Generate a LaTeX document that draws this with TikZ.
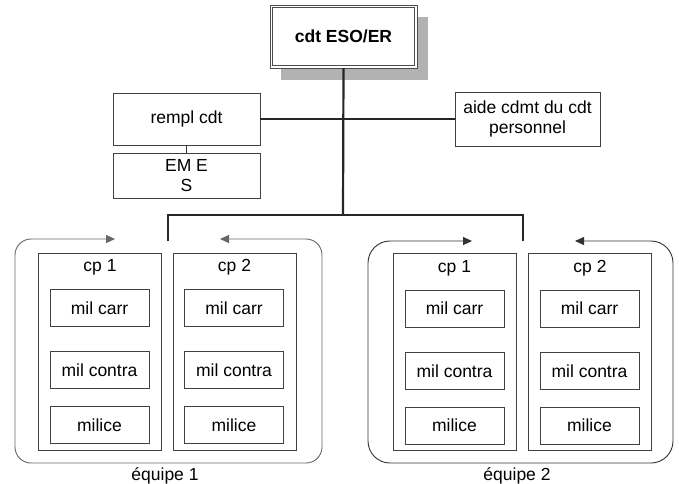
\documentclass[tikz,border=0pt]{standalone}
\usepackage{fontspec}
\setmainfont{Liberation Sans}
\usetikzlibrary{arrows.meta,positioning,shadows}

\begin{document}
\begin{tikzpicture}[x=1pt,y=-1pt,font=\fontsize{17.5}{20}\selectfont]
	\tikzstyle{box}=[draw=black!75, line width=0.9pt, rectangle, inner sep=0pt, outer sep=0pt, align=center]
	\tikzstyle{unit}=[box, minimum width=99pt, minimum height=37pt]
	\tikzstyle{cp}=[box, minimum width=123pt, minimum height=197pt]
	\tikzstyle{link}=[draw=black!85, line width=2.2pt]
	\tikzstyle{frame}=[draw=black!60, line width=0.9pt, {Triangle[length=9pt,width=8pt]}-{Triangle[length=9pt,width=8pt]}]

	\useasboundingbox (0,0) rectangle (679,483);

	% top of the tree
	\node[box, draw=black!70, fill=white, line width=0.9pt,
	      minimum width=147pt, minimum height=63pt, font=\fontsize{17.5}{20}\selectfont\bfseries,
	      drop shadow={shadow xshift=11pt, shadow yshift=-12pt, fill=black!30, opacity=1}]
	      (cdt) at (343.5,36.5) {cdt ESO/ER};
	\draw[black!70, line width=0.9pt] ([xshift=2.6pt,yshift=-2.6pt]cdt.north west) rectangle ([xshift=-2.6pt,yshift=2.6pt]cdt.south east);

	\node[box, minimum width=147pt, minimum height=52pt] (rempl) at (186.5,119) {rempl cdt};
	\node[box, minimum width=147pt, minimum height=45pt] (emes) at (186.5,175.5) {EM E\\S};
	\node[box, minimum width=145pt, minimum height=54pt] (aide) at (527.5,119) {aide cdmt du cdt\\personnel};

	\coordinate (bar) at (343,215);
	\coordinate (in1) at (168,241);
	\coordinate (in2) at (523,241);

	\draw[link] (cdt.south) -- (bar);
	\draw[link] (rempl) -- (aide);
	\draw[line width=1pt, black!80] (rempl) -- (emes);
	\draw[link] (in1) |- (bar) -| (in2);

	% equipe 1
	\draw[frame, rounded corners=16pt] (115,239) -- (15,239) -- (15,463) -- (322,463) -- (322,239) -- (220,239);
	\node[cp, label={[anchor=north, yshift=-3pt]north:cp 1}] (cpa1) at (100,351.5) {};
	\node[cp, label={[anchor=north, yshift=-3pt]north:cp 2}] (cpa2) at (234.5,351.5) {};
	\node[unit] (carra1) at (99.5,308) {mil carr};
	\node[unit] (contraa1) at (99.5,370) {mil contra};
	\node[unit] (milicea1) at (99.5,425) {milice};
	\node[unit] (carra2) at (234,308) {mil carr};
	\node[unit] (contraa2) at (234,370) {mil contra};
	\node[unit] (milicea2) at (234,425) {milice};
	\node (equipe1) at (165,476) {équipe 1};

	% equipe 2
	\draw[frame, draw=black!80, rounded corners=22pt] (472,241) -- (368,241) -- (368,463) -- (673,463) -- (673,241) -- (575,241);
	\node[cp, label={[anchor=north, yshift=-3pt]north:cp 1}] (cpb1) at (454.5,352) {};
	\node[cp, label={[anchor=north, yshift=-3pt]north:cp 2}] (cpb2) at (590,352) {};
	\node[unit] (carrb1) at (454.5,308.5) {mil carr};
	\node[unit] (contrab1) at (454.5,371) {mil contra};
	\node[unit] (miliceb1) at (454.5,425.5) {milice};
	\node[unit] (carrb2) at (589.5,308.5) {mil carr};
	\node[unit] (contrab2) at (589.5,371) {mil contra};
	\node[unit] (miliceb2) at (589.5,425.5) {milice};
	\node (equipe2) at (517,476) {équipe 2};
\end{tikzpicture}
\end{document}
